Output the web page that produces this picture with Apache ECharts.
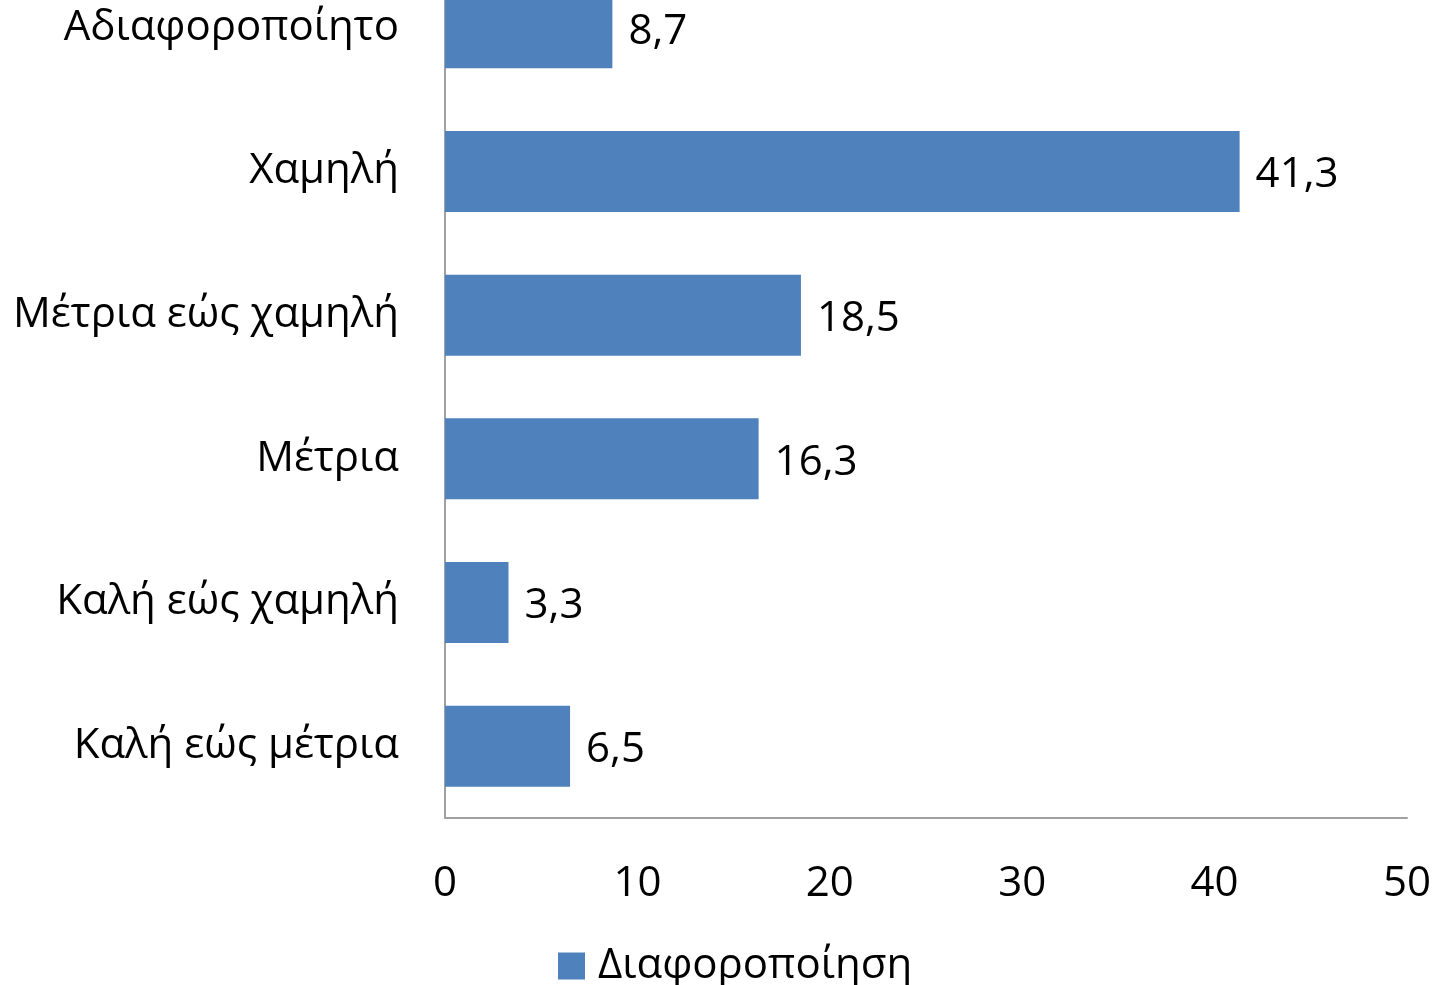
<!DOCTYPE html>
<html><head><meta charset="utf-8">
<script src="https://cdn.jsdelivr.net/npm/echarts@6/dist/echarts.min.js"></script>
<style>html,body{margin:0;padding:0;background:#fff;overflow:hidden}#c{position:absolute;left:0;top:-44px;width:1446px;height:1029px}</style>
</head><body><div id="c"></div>
<script>
const categories = ["Αδιαφοροποίητο","Χαμηλή","Μέτρια εώς χαμηλή","Μέτρια","Καλή εώς χαμηλή","Καλή εώς μέτρια"];
const values = [8.7, 41.3, 18.5, 16.3, 3.3, 6.5];
const seriesName = "Διαφοροποίηση";
const FONT = "Open Sans";
const FS = 42;
const chart = echarts.init(document.getElementById('c'));
chart.setOption({
  animation:false,
  textStyle:{fontFamily:FONT},
  grid:{left:445,right:39,top:0,bottom:167,containLabel:false},
  legend:{data:[seriesName],bottom:-2,left:558,padding:0,itemWidth:27,itemHeight:27,itemGap:12,
    icon:'rect',textStyle:{fontFamily:FONT,fontSize:FS,color:'#000',padding:[0,0,0,8]}},
  xAxis:{type:'value',min:0,max:50,interval:10,
    axisLine:{show:true,lineStyle:{color:'#a0a0a0',width:2}},
    axisTick:{show:false},splitLine:{show:false},
    axisLabel:{fontFamily:FONT,fontSize:FS,color:'#000',margin:45}},
  yAxis:{type:'category',data:categories,inverse:true,
    axisLine:{show:true,lineStyle:{color:'#a0a0a0',width:2}},
    axisTick:{show:false},
    axisLabel:{fontFamily:FONT,fontSize:FS,color:'#000',margin:46}},
  series:[{name:seriesName,type:'bar',data:values,barWidth:81,
    itemStyle:{color:'#4F81BD'},
    label:{show:true,position:'right',distance:16,fontFamily:FONT,fontSize:FS,color:'#000',
      offset:[0,4],
      formatter:p=>String(p.value).replace('.',',')}}]
});
</script></body></html>
